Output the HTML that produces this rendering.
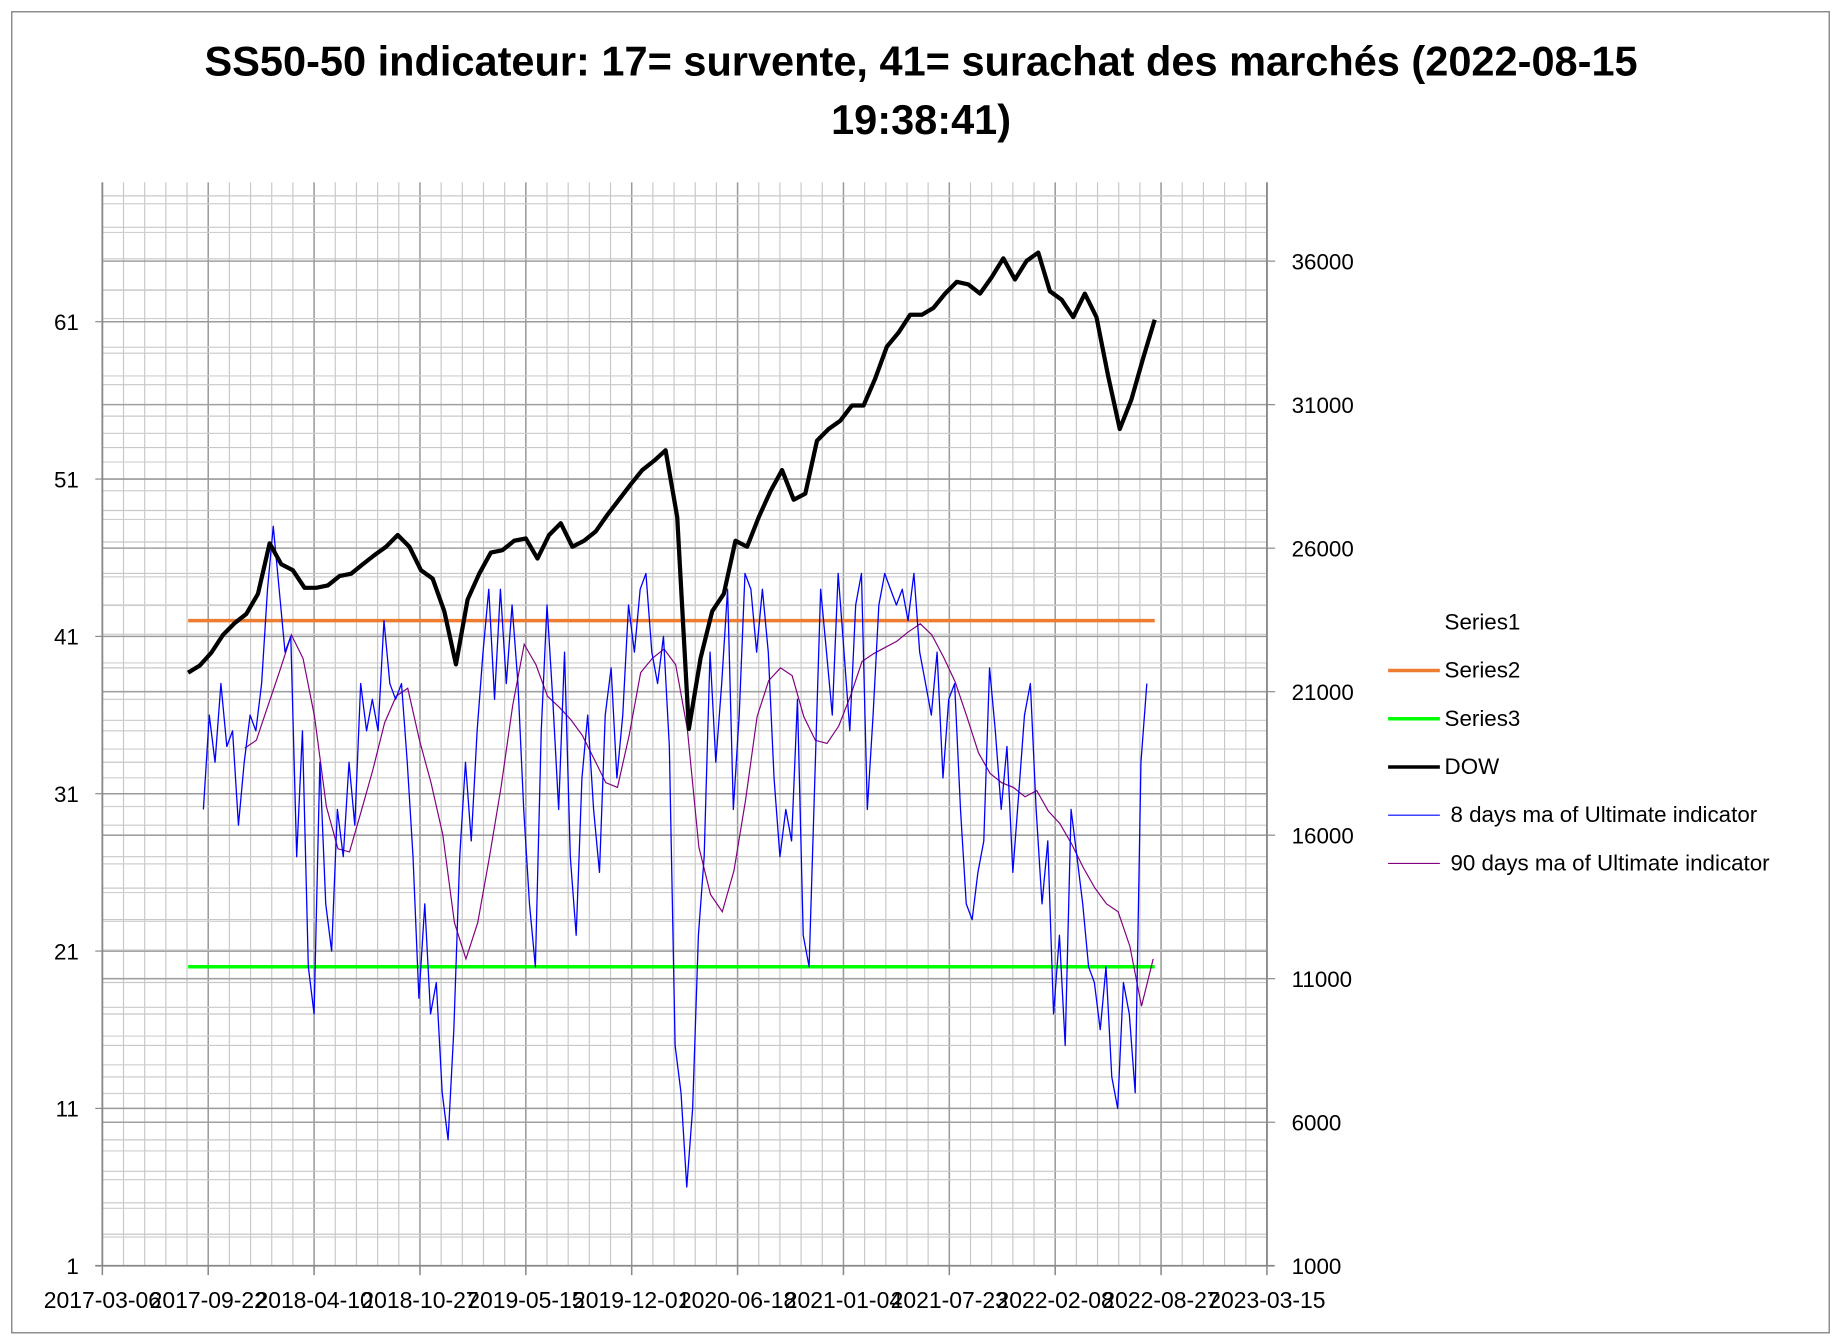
<!DOCTYPE html>
<html><head><meta charset="utf-8"><style>
html,body{margin:0;padding:0;background:#fff;}
svg{display:block;}
text{font-family:"Liberation Sans",sans-serif;}
</style></head><body>
<svg id="chart" width="1841" height="1341" viewBox="0 0 1565 1140" preserveAspectRatio="none" xmlns="http://www.w3.org/2000/svg">
<rect x="10" y="10" width="1545" height="1123" fill="#fff" stroke="#888" stroke-width="1.2"/>
<text x="783" y="64" text-anchor="middle" font-size="35.3" font-weight="bold">SS50-50 indicateur: 17= survente, 41= surachat des marchés (2022-08-15</text>
<text x="783" y="114" text-anchor="middle" font-size="35.3" font-weight="bold">19:38:41)</text>
<g id="grid"></g>
<g id="axes"></g>
<g id="series"></g>
<g id="legend"></g>
</svg>
<script>
const xTickLabels=["2017-03-06","2017-09-22","2018-04-10","2018-10-27","2019-05-15","2019-12-01","2020-06-18","2021-01-04","2021-07-23","2022-02-08","2022-08-27","2023-03-15"];
const leftTicks=[1,11,21,31,41,51,61];
const rightTicks=[1000,6000,11000,16000,21000,26000,31000,36000];
const series2Value=[42];
const series3Value=[20];
const dowStartDay=[162];
const dowStepDays=[22];
const dowValues=[21660,21910,22360,22980,23390,23710,24410,26170,25440,25230,24620,24620,24700,25030,25110,25440,25760,26050,26460,26050,25230,24940,23800,21950,24210,25110,25850,25930,26260,26340,25640,26460,26870,26050,26260,26580,27160,27690,28220,28720,29040,29410,27080,19700,22160,23800,24410,26260,26050,27080,27980,28720,27690,27900,29740,30150,30440,30970,30970,31910,33020,33510,34130,34130,34370,34870,35280,35190,34870,35440,36100,35360,36010,36300,34950,34660,34050,34870,34050,32000,30150,31180,32610,33960];
const ma90StartDay=[269];
const ma90StepDays=[22];
const ma90Values=[33.9,34.4,36.6,38.8,41.1,39.6,35.9,30.2,27.5,27.3,29.9,32.5,35.5,37.2,37.7,34.4,31.7,28.4,22.8,20.5,22.8,26.9,31.4,36.6,40.5,39.2,37.2,36.5,35.7,34.7,33.2,31.7,31.4,34.7,38.7,39.6,40.2,39.2,35.1,27.6,24.6,23.5,26.1,30.6,35.9,38.2,39.0,38.5,35.9,34.4,34.2,35.3,37.2,39.4,39.9,40.3,40.7,41.3,41.8,41.1,39.7,38.1,35.9,33.6,32.3,31.7,31.4,30.8,31.2,29.9,29.1,27.8,26.3,25.0,24.0,23.5,21.3,17.5,20.5];
const ma8StartDay=[191];
const ma8StepDays=[11];
const ma8Values=[30,36,33,38,34,35,29,33,36,35,38,44,48,44,40,41,27,35,20,17,33,24,21,30,27,33,29,38,35,37,35,42,38,37,38,33,27,18,24,17,19,12,9,16,27,33,28,35,40,44,37,44,38,43,38,30,24,20,35,43,37,30,40,27,22,32,36,30,26,36,39,32,36,43,40,44,45,40,38,41,34,15,12,6,11,22,27,40,33,38,44,30,36,45,44,40,44,40,32,27,30,28,37,22,20,32,44,40,36,45,40,35,43,45,30,36,43,45,44,43,44,42,45,40,38,36,40,32,37,38,30,24,23,26,28,39,35,30,34,26,31,36,38,30,24,28,17,22,15,30,27,24,20,19,16,20,13,11,19,17,12,33,38];

const NS="http://www.w3.org/2000/svg";
const PL=87,PR=1077,PT=155,PB=1076;
function xDay(d){return PL+d*(PR-PL)/2200;}
function yL(v){return PB-(v-1)*(PB-541)/40;}
function yR(v){return PB-(v-1000)*(PB-222)/35000;}
function mk(tag,attrs,parent){const e=document.createElementNS(NS,tag);for(const k in attrs)e.setAttribute(k,attrs[k]);parent.appendChild(e);return e;}
const grid=document.getElementById('grid'),axes=document.getElementById('axes'),ser=document.getElementById('series'),leg=document.getElementById('legend');

for(let i=0;i<=55;i++){const x=PL+i*18;const l=mk('line',{x1:x,x2:x,y1:PT,y2:PB,stroke:i%5===0?'#9a9a9a':'#c8c8c8','stroke-width':i%5===0?1.3:1},grid);

}
for(let v=1;v<=69;v+=2){const y=yL(v);if(y<PT)break;const maj=(v-1)%10===0;const l=mk('line',{x1:PL,x2:PR,y1:y,y2:y,stroke:maj?'#9a9a9a':'#c8c8c8','stroke-width':maj?1.3:1},grid);

}
for(let v=1000;v<=38000;v+=1000){const y=yR(v);if(y<PT)break;const maj=v%5000===1000;const l=mk('line',{x1:PL,x2:PR,y1:y,y2:y,stroke:maj?'#a0a0a0':'#cfcfcf','stroke-width':maj?1.3:1},grid);

}

let a=mk('line',{x1:PL,x2:PL,y1:PT,y2:PB,stroke:'#888','stroke-width':1.5},axes);


a=mk('line',{x1:PR,x2:PR,y1:PT,y2:PB,stroke:'#888','stroke-width':1.5},axes);


a=mk('line',{x1:PL-6,x2:PR+6,y1:PB,y2:PB,stroke:'#888','stroke-width':1.5},axes);


xTickLabels.forEach((t,i)=>{const x=PL+i*200*(PR-PL)/2200;
const tk=mk('line',{x1:x,x2:x,y1:PB,y2:PB+8,stroke:'#888','stroke-width':1.3},axes);


const tx=mk('text',{x:x,y:1112,'text-anchor':'middle','font-size':19.5},axes);tx.textContent=t;

});
leftTicks.forEach(v=>{const y=yL(v);
const tk=mk('line',{x1:PL-6,x2:PL,y1:y,y2:y,stroke:'#888'},axes);


const tx=mk('text',{x:67,y:y+7,'text-anchor':'end','font-size':19},axes);tx.textContent=v;

});
rightTicks.forEach(v=>{const y=yR(v);
const tk=mk('line',{x1:PR,x2:PR+7,y1:y,y2:y,stroke:'#888'},axes);


const tx=mk('text',{x:1098,y:y+7,'font-size':19},axes);tx.textContent=v;

});

function path(vals,start,step,yf){return vals.map((v,i)=>(i?'L':'M')+xDay(start+i*step).toFixed(1)+','+yf(v).toFixed(1)).join(' ');}
const endDay=1988;
let p=mk('line',{x1:xDay(dowStartDay[0]),x2:xDay(endDay),y1:yL(series2Value[0]),y2:yL(series2Value[0]),stroke:'#ED7D31','stroke-width':3},ser);


p=mk('line',{x1:xDay(dowStartDay[0]),x2:xDay(endDay),y1:yL(series3Value[0]),y2:yL(series3Value[0]),stroke:'#00FF00','stroke-width':3},ser);


p=mk('path',{d:path(ma90Values,ma90StartDay[0],ma90StepDays[0],yL),fill:'none',stroke:'#800080','stroke-width':1},ser);


p=mk('path',{d:path(ma8Values,ma8StartDay[0],ma8StepDays[0],yL),fill:'none',stroke:'#0000FF','stroke-width':1.1,'stroke-linejoin':'round'},ser);


p=mk('path',{d:path(dowValues,dowStartDay[0],dowStepDays[0],yR),fill:'none',stroke:'#000','stroke-width':3.6,'stroke-linejoin':'round'},ser);



const legItems=[["Series1",null,0],["Series2","#ED7D31",3],["Series3","#00FF00",3],["DOW","#000",3],["8 days ma of Ultimate indicator","#0000FF",1],["90 days ma of Ultimate indicator","#800080",1]];
legItems.forEach((it,i)=>{const y=528+i*41;
const g=mk('g',{},leg);


if(it[1]){mk('line',{x1:1180,x2:1224,y1:y+1,y2:y+1,stroke:it[1],'stroke-width':it[2]},g);}
const tx=mk('text',{x:it[2]===1?1233:1228,y:y+7,'font-size':19},g);tx.textContent=it[0];});
</script>
</body></html>
